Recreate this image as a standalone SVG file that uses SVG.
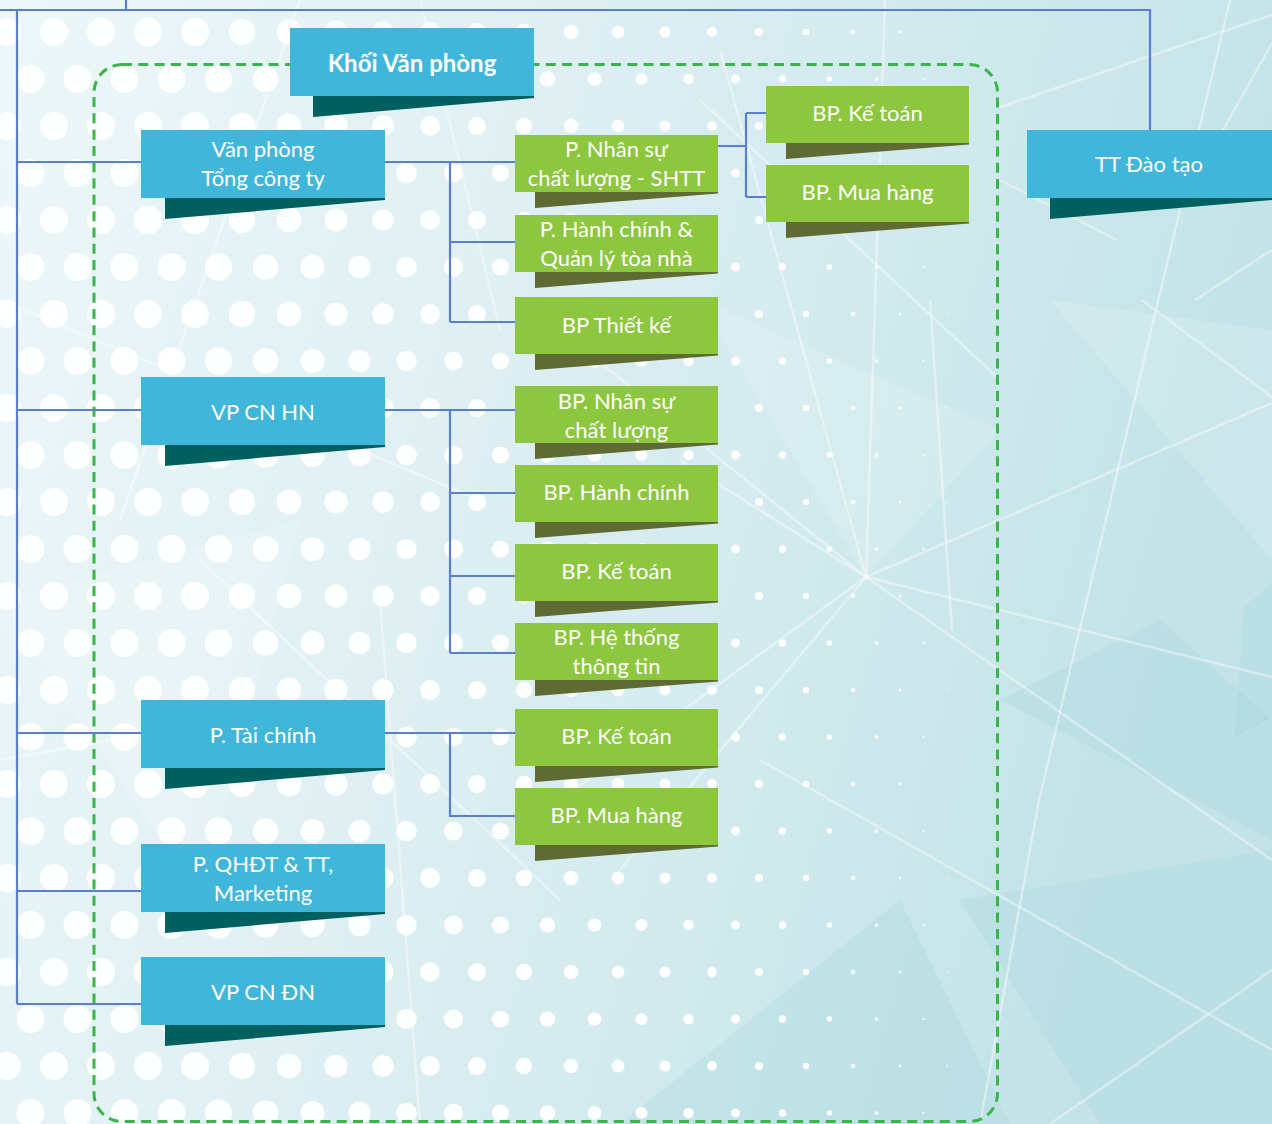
<svg xmlns="http://www.w3.org/2000/svg" width="1272" height="1124" viewBox="0 0 1272 1124">
<defs>
<linearGradient id="bg" x1="0" y1="0" x2="1" y2="0.25">
<stop offset="0" stop-color="#edf7f9"/>
<stop offset="0.45" stop-color="#deeff3"/>
<stop offset="0.75" stop-color="#cfe9ed"/>
<stop offset="1" stop-color="#c3e3e8"/>
</linearGradient>
<style>
.blue{fill:#41b6db}
.bsh{fill:#00605f}
.green{fill:#8dc63f}
.gsh{fill:#5f6b33}
.t{font-family:Lato,"Open Sans","Noto Sans",sans-serif;font-size:22px;fill:#ffffff;text-anchor:middle}
.tb{font-weight:700;font-size:24px}
.conn{stroke:#5b7fcf;stroke-width:2.2;fill:none}
.dots line{stroke:#ffffff;stroke-dasharray:0 94;stroke-linecap:round;stroke-opacity:0.95}
.cr{stroke:#ffffff;stroke-opacity:0.4;stroke-width:2.5;fill:none}
.fc{fill:#9fd3dc;fill-opacity:0.25}
.fl{fill:#ffffff;fill-opacity:0.15}
</style>
</defs>
<g id="background">
<rect x="0" y="0" width="1272" height="1124" fill="url(#bg)"/>
<polygon class="fl" points="700,300 866,577 1000,430"/>
<polygon class="fl" points="1050,300 1272,330 1272,560"/>
<polygon class="fc" points="1244,607 1272,583 1272,717 1235,737"/>
<polygon class="fc" points="960,900 1272,850 1272,1124 1100,1124"/>
<polygon class="fc" points="1000,700 1160,620 1272,720 1272,840"/>
<polygon class="fl" points="0,600 300,520 200,900"/>
<polygon class="fc" points="620,1124 900,900 1010,1124"/>
<g class="cr">
<line x1="866" y1="577" x2="1272" y2="403"/>
<line x1="866" y1="577" x2="1272" y2="677"/>
<line x1="866" y1="577" x2="560" y2="330"/>
<line x1="866" y1="577" x2="680" y2="460"/>
<line x1="866" y1="577" x2="720" y2="50"/>
<line x1="866" y1="577" x2="885" y2="0"/>
<line x1="930" y1="300" x2="952" y2="630"/>
<line x1="866" y1="577" x2="560" y2="800"/>
<line x1="866" y1="577" x2="620" y2="870"/>
<line x1="866" y1="577" x2="1272" y2="860"/>
<line x1="1142" y1="300" x2="1272" y2="397"/>
<line x1="1272" y1="250" x2="1195" y2="300"/>
<line x1="1230" y1="0" x2="1039" y2="800"/>
<line x1="1039" y1="800" x2="980" y2="1124"/>
<line x1="1000" y1="107" x2="1272" y2="15"/>
<line x1="1272" y1="43" x2="1223" y2="130"/>
<line x1="1000" y1="180" x2="1117" y2="240"/>
<line x1="700" y1="100" x2="1000" y2="380"/>
<line x1="1272" y1="970" x2="1050" y2="1124"/>
<line x1="760" y1="760" x2="1272" y2="1050"/>
<line x1="420" y1="0" x2="500" y2="330"/>
<line x1="300" y1="0" x2="120" y2="520"/>
<line x1="0" y1="300" x2="480" y2="500"/>
<line x1="200" y1="560" x2="560" y2="900"/>
<line x1="0" y1="760" x2="330" y2="700"/>
<line x1="380" y1="600" x2="420" y2="1124"/>
</g>
</g>
<g class="dots" id="dots">
<line x1="7" y1="32" x2="7" y2="1124" stroke-width="28"/>
<line x1="54" y1="32" x2="54" y2="1124" stroke-width="28"/>
<line x1="101" y1="32" x2="101" y2="1124" stroke-width="28"/>
<line x1="148" y1="32" x2="148" y2="1124" stroke-width="28"/>
<line x1="195" y1="32" x2="195" y2="1124" stroke-width="28"/>
<line x1="242" y1="32" x2="242" y2="1124" stroke-width="26.5"/>
<line x1="289" y1="32" x2="289" y2="1124" stroke-width="24.8"/>
<line x1="336" y1="32" x2="336" y2="1124" stroke-width="23.1"/>
<line x1="383" y1="32" x2="383" y2="1124" stroke-width="21.5"/>
<line x1="430" y1="32" x2="430" y2="1124" stroke-width="19.8"/>
<line x1="477" y1="32" x2="477" y2="1124" stroke-width="18.1"/>
<line x1="524" y1="32" x2="524" y2="1124" stroke-width="16.4"/>
<line x1="571" y1="32" x2="571" y2="1124" stroke-width="14.6"/>
<line x1="618" y1="32" x2="618" y2="1124" stroke-width="12.8"/>
<line x1="665" y1="32" x2="665" y2="1124" stroke-width="11.2"/>
<line x1="712" y1="32" x2="712" y2="1124" stroke-width="9.8"/>
<line x1="759" y1="32" x2="759" y2="1124" stroke-width="8.2"/>
<line x1="806" y1="32" x2="806" y2="1124" stroke-width="6.6"/>
<line x1="853" y1="32" x2="853" y2="1124" stroke-width="4.6"/>
<line x1="900" y1="32" x2="900" y2="1124" stroke-width="2.8"/>
<line x1="947" y1="32" x2="947" y2="1124" stroke-width="1.6"/>
<line x1="30.5" y1="79" x2="30.5" y2="1124" stroke-width="28"/>
<line x1="77.5" y1="79" x2="77.5" y2="1124" stroke-width="28"/>
<line x1="124.5" y1="79" x2="124.5" y2="1124" stroke-width="28"/>
<line x1="171.5" y1="79" x2="171.5" y2="1124" stroke-width="28"/>
<line x1="218.5" y1="79" x2="218.5" y2="1124" stroke-width="27.3"/>
<line x1="265.5" y1="79" x2="265.5" y2="1124" stroke-width="25.7"/>
<line x1="312.5" y1="79" x2="312.5" y2="1124" stroke-width="24"/>
<line x1="359.5" y1="79" x2="359.5" y2="1124" stroke-width="22.3"/>
<line x1="406.5" y1="79" x2="406.5" y2="1124" stroke-width="20.6"/>
<line x1="453.5" y1="79" x2="453.5" y2="1124" stroke-width="18.9"/>
<line x1="500.5" y1="79" x2="500.5" y2="1124" stroke-width="17.2"/>
<line x1="547.5" y1="79" x2="547.5" y2="1124" stroke-width="15.5"/>
<line x1="594.5" y1="79" x2="594.5" y2="1124" stroke-width="13.7"/>
<line x1="641.5" y1="79" x2="641.5" y2="1124" stroke-width="12"/>
<line x1="688.5" y1="79" x2="688.5" y2="1124" stroke-width="10.5"/>
<line x1="735.5" y1="79" x2="735.5" y2="1124" stroke-width="9"/>
<line x1="782.5" y1="79" x2="782.5" y2="1124" stroke-width="7.4"/>
<line x1="829.5" y1="79" x2="829.5" y2="1124" stroke-width="5.6"/>
<line x1="876.5" y1="79" x2="876.5" y2="1124" stroke-width="3.7"/>
<line x1="923.5" y1="79" x2="923.5" y2="1124" stroke-width="2.2"/>
<line x1="970.5" y1="79" x2="970.5" y2="1124" stroke-width="1"/>
</g>
<rect id="group-khoi-van-phong" x="94" y="64.5" width="903.5" height="1057" rx="28" fill="none" stroke="#39b54a" stroke-width="3" stroke-dasharray="10 6.3"/>
<g id="connectors" class="conn">
<path d="M126 0V10 M0 10H1150V130 M17 10V1004 M17 162H141 M17 410H141 M17 733H141 M17 891H141 M17 1004H141"/>
<path d="M385 162H515 M450 162V322 M450 242H515 M450 322H515"/>
<path d="M718 146H746 M746 113V197 M746 113H766 M746 197H766"/>
<path d="M385 410H515 M450 410V653 M450 493H515 M450 576H515 M450 653H515"/>
<path d="M385 733H515 M450 733V816H515"/>
</g>
<g id="n-khoi-van-phong">
<polygon class="bsh" points="313,96 534,96 534,98 313,117"/>
<rect class="blue" x="290" y="28" width="244" height="68"/>
<text class="t tb" x="412" y="72">Khối Văn phòng</text>
</g>
<g id="n-vp-tong-cong-ty">
<polygon class="bsh" points="165,198 385,198 385,200 165,219"/>
<rect class="blue" x="141" y="130" width="244" height="68"/>
<text class="t" x="263" y="157">Văn phòng</text>
<text class="t" x="263" y="186">Tổng công ty</text>
</g>
<g id="n-tt-dao-tao">
<polygon class="bsh" points="1050,198 1272,198 1272,200 1050,219"/>
<rect class="blue" x="1027" y="130" width="245" height="68"/>
<text class="t" x="1149" y="172">TT Đào tạo</text>
</g>
<g id="n-vp-cn-hn">
<polygon class="bsh" points="165,445 385,445 385,447 165,466"/>
<rect class="blue" x="141" y="377" width="244" height="68"/>
<text class="t" x="263" y="420">VP CN HN</text>
</g>
<g id="n-p-tai-chinh">
<polygon class="bsh" points="165,768 385,768 385,770 165,789"/>
<rect class="blue" x="141" y="700" width="244" height="68"/>
<text class="t" x="263" y="743">P. Tài chính</text>
</g>
<g id="n-p-qhdt">
<polygon class="bsh" points="165,912 385,912 385,914 165,933"/>
<rect class="blue" x="141" y="844" width="244" height="68"/>
<text class="t" x="263" y="872">P. QHĐT &amp; TT,</text>
<text class="t" x="263" y="901">Marketing</text>
</g>
<g id="n-vp-cn-dn">
<polygon class="bsh" points="165,1025 385,1025 385,1027 165,1046"/>
<rect class="blue" x="141" y="957" width="244" height="68"/>
<text class="t" x="263" y="1000">VP CN ĐN</text>
</g>
<g id="n-p-nhan-su">
<polygon class="gsh" points="535,192 718,192 718,193.5 535,208"/>
<rect class="green" x="515" y="135" width="203" height="57"/>
<text class="t" x="616.5" y="157">P. Nhân sự</text>
<text class="t" x="616.5" y="186">chất lượng - SHTT</text>
</g>
<g id="n-p-hanh-chinh">
<polygon class="gsh" points="535,272 718,272 718,273.5 535,288"/>
<rect class="green" x="515" y="215" width="203" height="57"/>
<text class="t" x="616.5" y="237">P. Hành chính &amp;</text>
<text class="t" x="616.5" y="266">Quản lý tòa nhà</text>
</g>
<g id="n-bp-thiet-ke">
<polygon class="gsh" points="535,354 718,354 718,355.5 535,370"/>
<rect class="green" x="515" y="297" width="203" height="57"/>
<text class="t" x="616.5" y="333">BP Thiết kế</text>
</g>
<g id="n-bp-ke-toan-1">
<polygon class="gsh" points="786,143 969,143 969,144.5 786,159"/>
<rect class="green" x="766" y="86" width="203" height="57"/>
<text class="t" x="867.5" y="121">BP. Kế toán</text>
</g>
<g id="n-bp-mua-hang-1">
<polygon class="gsh" points="786,222 969,222 969,223.5 786,238"/>
<rect class="green" x="766" y="165" width="203" height="57"/>
<text class="t" x="867.5" y="200">BP. Mua hàng</text>
</g>
<g id="n-bp-nhan-su-hn">
<polygon class="gsh" points="535,443 718,443 718,444.5 535,459"/>
<rect class="green" x="515" y="386" width="203" height="57"/>
<text class="t" x="616.5" y="409">BP. Nhân sự</text>
<text class="t" x="616.5" y="438">chất lượng</text>
</g>
<g id="n-bp-hanh-chinh-hn">
<polygon class="gsh" points="535,522 718,522 718,523.5 535,538"/>
<rect class="green" x="515" y="465" width="203" height="57"/>
<text class="t" x="616.5" y="500">BP. Hành chính</text>
</g>
<g id="n-bp-ke-toan-hn">
<polygon class="gsh" points="535,601 718,601 718,602.5 535,617"/>
<rect class="green" x="515" y="544" width="203" height="57"/>
<text class="t" x="616.5" y="579">BP. Kế toán</text>
</g>
<g id="n-bp-he-thong">
<polygon class="gsh" points="535,680 718,680 718,681.5 535,696"/>
<rect class="green" x="515" y="623" width="203" height="57"/>
<text class="t" x="616.5" y="645">BP. Hệ thống</text>
<text class="t" x="616.5" y="674">thông tin</text>
</g>
<g id="n-bp-ke-toan-tc">
<polygon class="gsh" points="535,766 718,766 718,767.5 535,782"/>
<rect class="green" x="515" y="709" width="203" height="57"/>
<text class="t" x="616.5" y="744">BP. Kế toán</text>
</g>
<g id="n-bp-mua-hang-tc">
<polygon class="gsh" points="535,845 718,845 718,846.5 535,861"/>
<rect class="green" x="515" y="788" width="203" height="57"/>
<text class="t" x="616.5" y="823">BP. Mua hàng</text>
</g>
</svg>
